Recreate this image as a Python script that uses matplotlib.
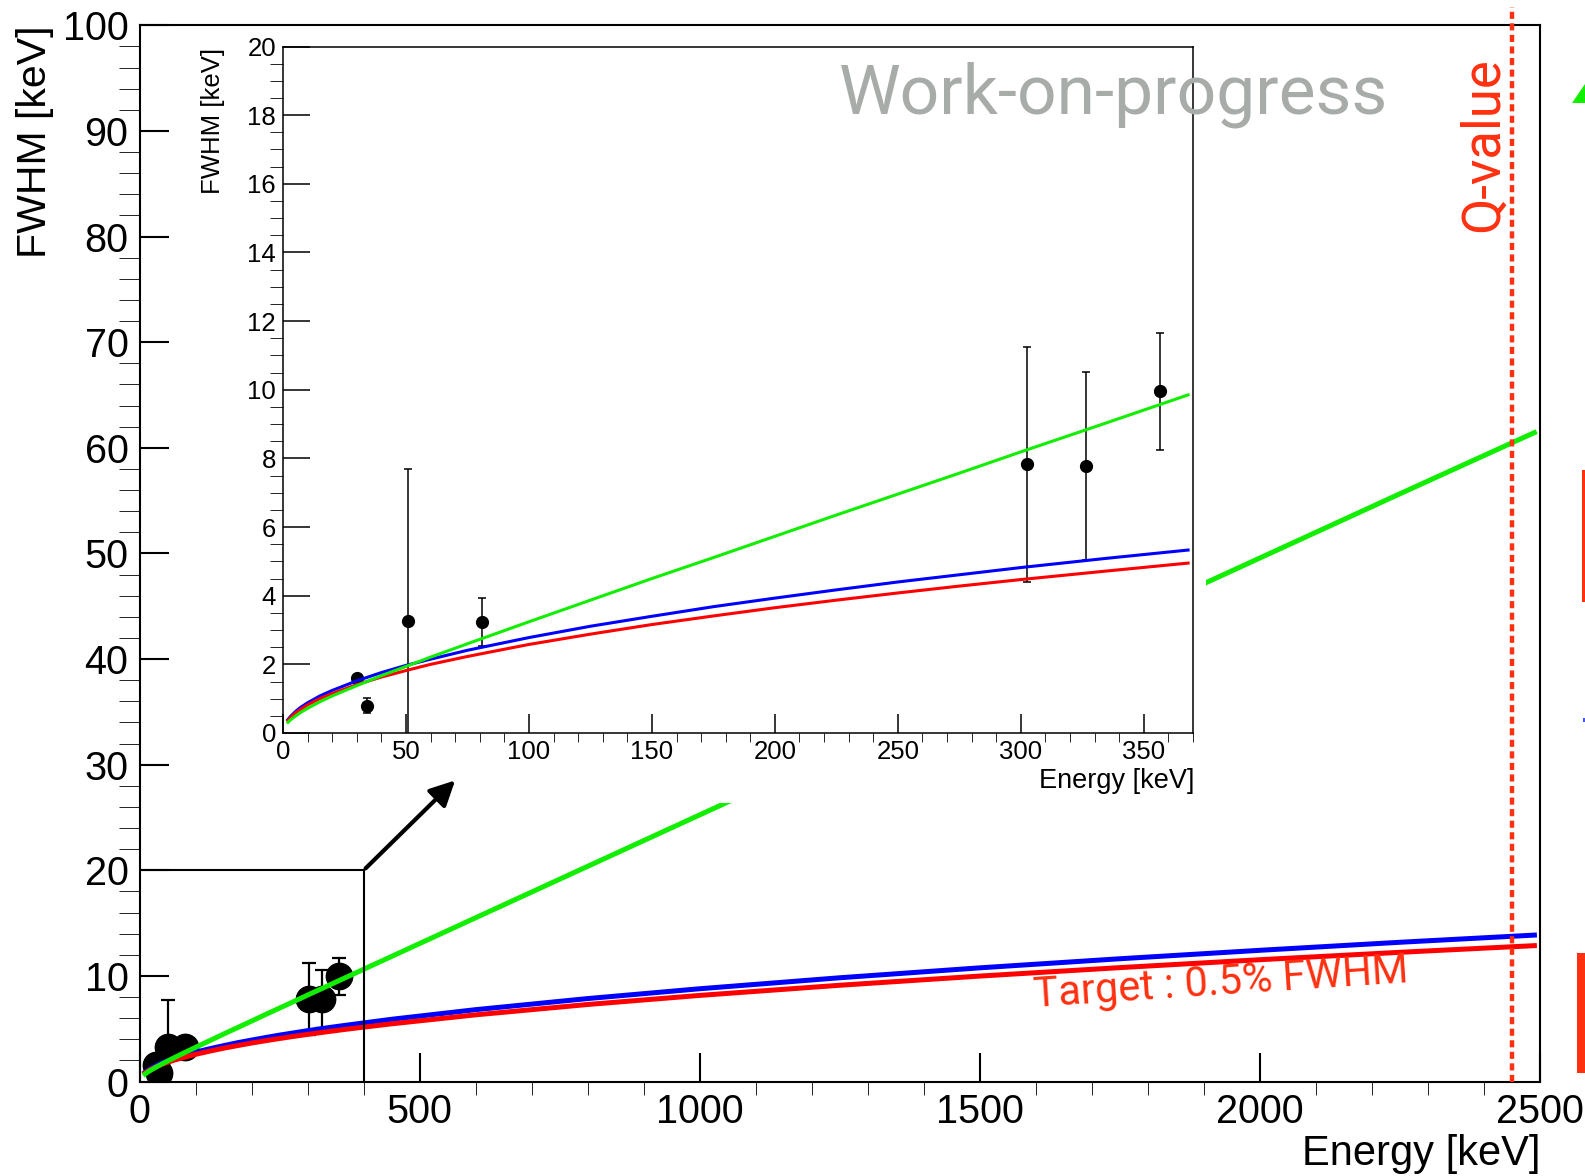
import matplotlib
matplotlib.use("Agg")
import matplotlib.pyplot as plt
from matplotlib.patches import Rectangle, Polygon, FancyArrowPatch
from matplotlib.ticker import MultipleLocator

plt.rcParams['font.family'] = ['Liberation Sans', 'DejaVu Sans']

# fitted resolution curves, FWHM [keV] at energy [keV]
energy_fit = [2, 3, 5, 7, 10, 15, 20, 30, 40, 50, 60, 75, 100, 125, 150, 175, 200, 225, 250,
              275, 300, 335, 368, 450, 600, 800, 1000, 1250, 1500, 1750, 2000, 2250, 2490]
fwhm_target = [0.36, 0.45, 0.58, 0.68, 0.82, 1.00, 1.15, 1.41, 1.63, 1.82, 2.00, 2.23, 2.58,
               2.88, 3.16, 3.41, 3.65, 3.87, 4.08, 4.28, 4.47, 4.72, 4.95,
               5.47, 6.32, 7.30, 8.16, 9.12, 9.99, 10.79, 11.54, 12.24, 12.87]
fwhm_blue = [0.39, 0.48, 0.62, 0.74, 0.88, 1.08, 1.24, 1.52, 1.76, 1.97, 2.15, 2.41, 2.78,
             3.11, 3.40, 3.68, 3.93, 4.17, 4.40, 4.61, 4.82, 5.09, 5.33,
             5.90, 6.81, 7.86, 8.79, 9.83, 10.77, 11.63, 12.43, 13.19, 13.87]
fwhm_green = [0.31, 0.38, 0.49, 0.59, 0.72, 0.91, 1.08, 1.38, 1.67, 1.94, 2.21, 2.60, 3.24,
              3.87, 4.50, 5.11, 5.73, 6.35, 6.96, 7.57, 8.19, 9.04, 9.85,
              11.85, 15.51, 20.38, 25.25, 31.33, 37.41, 43.49, 49.57, 55.65, 61.44]

# measured peaks
peak_energy = [30, 34, 51, 81, 302.5, 326.5, 356.5]
peak_fwhm = [1.59, 0.79, 3.26, 3.24, 7.83, 7.79, 9.95]
peak_err = [0.03, 0.22, 4.42, 0.70, 3.42, 2.74, 1.71]

q_value = 2450
zoom_energy = 400
zoom_fwhm = 20

RED = '#ff0000'
BLUE = '#0000ff'
GREEN = '#11ee00'
TXT_RED = '#ff3010'
SOFT = ['Roboto', 'Liberation Sans', 'DejaVu Sans']

W, H = 1585, 1176
fig = plt.figure(figsize=(W / 100, H / 100), dpi=100)

def fx(px):
    return px / W

def fy(py):
    return 1 - py / H

# ---- main frame
ax = fig.add_axes([fx(139.5), fy(1081.6), fx(1540) - fx(139.5), fy(25.3) - fy(1081.6)])
ax.set_zorder(0)
ax.errorbar(peak_energy, peak_fwhm, yerr=peak_err, fmt='o', color='black', ms=19,
            elinewidth=1.6, capsize=5, capthick=1.6, zorder=2)
main = [i for i, e in enumerate(energy_fit) if e >= 10]
ax.plot([energy_fit[i] for i in main], [fwhm_blue[i] for i in main], color=BLUE, lw=3.6, zorder=3)
ax.plot([energy_fit[i] for i in main], [fwhm_target[i] for i in main], color=RED, lw=3.6, zorder=3)
ax.plot([energy_fit[i] for i in main], [fwhm_green[i] for i in main], color=GREEN, lw=3.6, zorder=3)

# zoom box
ax.plot([0, zoom_energy], [zoom_fwhm, zoom_fwhm], color='black', lw=1.5, zorder=4)
ax.plot([zoom_energy, zoom_energy], [0, zoom_fwhm], color='black', lw=1.5, zorder=4)

# Q-value
ax.axvline(q_value, ymin=0, ymax=1.017, color=TXT_RED, lw=3.2, ls=(0, (1.6, 1.0)),
           clip_on=False, zorder=4)

ax.set_xlim(0, 2500)
ax.set_ylim(0, 100)
ax.xaxis.set_major_locator(MultipleLocator(500))
ax.xaxis.set_minor_locator(MultipleLocator(100))
ax.yaxis.set_major_locator(MultipleLocator(10))
ax.yaxis.set_minor_locator(MultipleLocator(2))
ax.tick_params(direction='in', labelsize=28.5, width=1.5, top=False, right=False)
ax.tick_params(axis='x', which='major', length=21, pad=8)
ax.tick_params(axis='x', which='minor', length=9.5)
ax.tick_params(axis='y', which='major', length=21, pad=8)
ax.tick_params(axis='y', which='minor', length=15)
for s in ax.spines.values():
    s.set_linewidth(1.5)
fig.text(fx(35), fy(25), 'FWHM [keV]', rotation=90, ha='center', va='top', fontsize=29.5)
fig.text(fx(1540), fy(1154), 'Energy [keV]', ha='right', va='center', fontsize=30)

ax.text(1931, 9.33, 'Target : 0.5% FWHM', rotation=3.8, ha='center', va='center',
        color=TXT_RED, fontsize=30, family=SOFT, zorder=5)
fig.text(fx(1483), fy(145), 'Q-value', rotation=90, ha='center', va='center',
         color=TXT_RED, fontsize=38, family=SOFT)

# white pad behind the zoomed view
fig.add_artist(Rectangle((fx(175), fy(803)), fx(1206) - fx(175), fy(27) - fy(803),
                         transform=fig.transFigure, fc='white', ec='none', zorder=1))

# ---- zoomed view
ins = fig.add_axes([fx(283), fy(733), fx(1193) - fx(283), fy(46.5) - fy(733)])
ins.set_zorder(2)
ins.errorbar(peak_energy, peak_fwhm, yerr=peak_err, fmt='o', color='black', ms=8.5,
             elinewidth=1.1, capsize=3, capthick=1.1, zorder=2)
part = [i for i, e in enumerate(energy_fit) if e <= 368]
ins.plot([energy_fit[i] for i in part], [fwhm_blue[i] for i in part], color=BLUE, lw=2.2, zorder=3)
ins.plot([energy_fit[i] for i in part], [fwhm_target[i] for i in part], color=RED, lw=2.2, zorder=3)
ins.plot([energy_fit[i] for i in part], [fwhm_green[i] for i in part], color=GREEN, lw=2.2, zorder=3)
ins.set_xlim(0, 370)
ins.set_ylim(0, 20)
ins.xaxis.set_major_locator(MultipleLocator(50))
ins.xaxis.set_minor_locator(MultipleLocator(10))
ins.yaxis.set_major_locator(MultipleLocator(2))
ins.yaxis.set_minor_locator(MultipleLocator(0.5))
ins.tick_params(direction='in', labelsize=18.5, width=1.1, top=False, right=False)
ins.tick_params(axis='x', which='major', length=13.7, pad=5)
ins.tick_params(axis='x', which='minor', length=6.5)
ins.tick_params(axis='y', which='major', length=19.5, pad=5)
ins.tick_params(axis='y', which='minor', length=9.5)
for s in ins.spines.values():
    s.set_linewidth(1.1)
fig.text(fx(213), fy(48), 'FWHM [keV]', rotation=90, ha='center', va='top', fontsize=18.5)
fig.text(fx(1194), fy(781), 'Energy [keV]', ha='right', va='center', fontsize=19.5)

# arrow from the zoom box to the zoomed view
fig.add_artist(FancyArrowPatch((zoom_energy, zoom_fwhm), (567, 28.7), transform=ax.transData,
                               arrowstyle='-|>', mutation_scale=38, lw=3, color='black', zorder=3))

fig.text(fx(839), fy(114), 'Work-on-progress', ha='left', va='baseline', color='#a8aca9',
         fontsize=50, family=SOFT, zorder=4)

# pieces of the neighbouring legend at the right edge
fig.add_artist(Polygon([(fx(1572), fy(103)), (fx(1585), fy(84)), (fx(1585), fy(103))],
                       closed=True, transform=fig.transFigure, fc=GREEN, ec='none'))
fig.add_artist(Rectangle((fx(1582), fy(602)), fx(4), fy(470) - fy(602),
                         transform=fig.transFigure, fc=TXT_RED, ec='none'))
fig.add_artist(Rectangle((fx(1583), fy(722)), fx(3), fy(718) - fy(722),
                         transform=fig.transFigure, fc='#4455ff', ec='none'))
fig.add_artist(Rectangle((fx(1577), fy(1073)), fx(9), fy(953) - fy(1073),
                         transform=fig.transFigure, fc=TXT_RED, ec='none'))

fig.savefig('out.png', dpi=100)
